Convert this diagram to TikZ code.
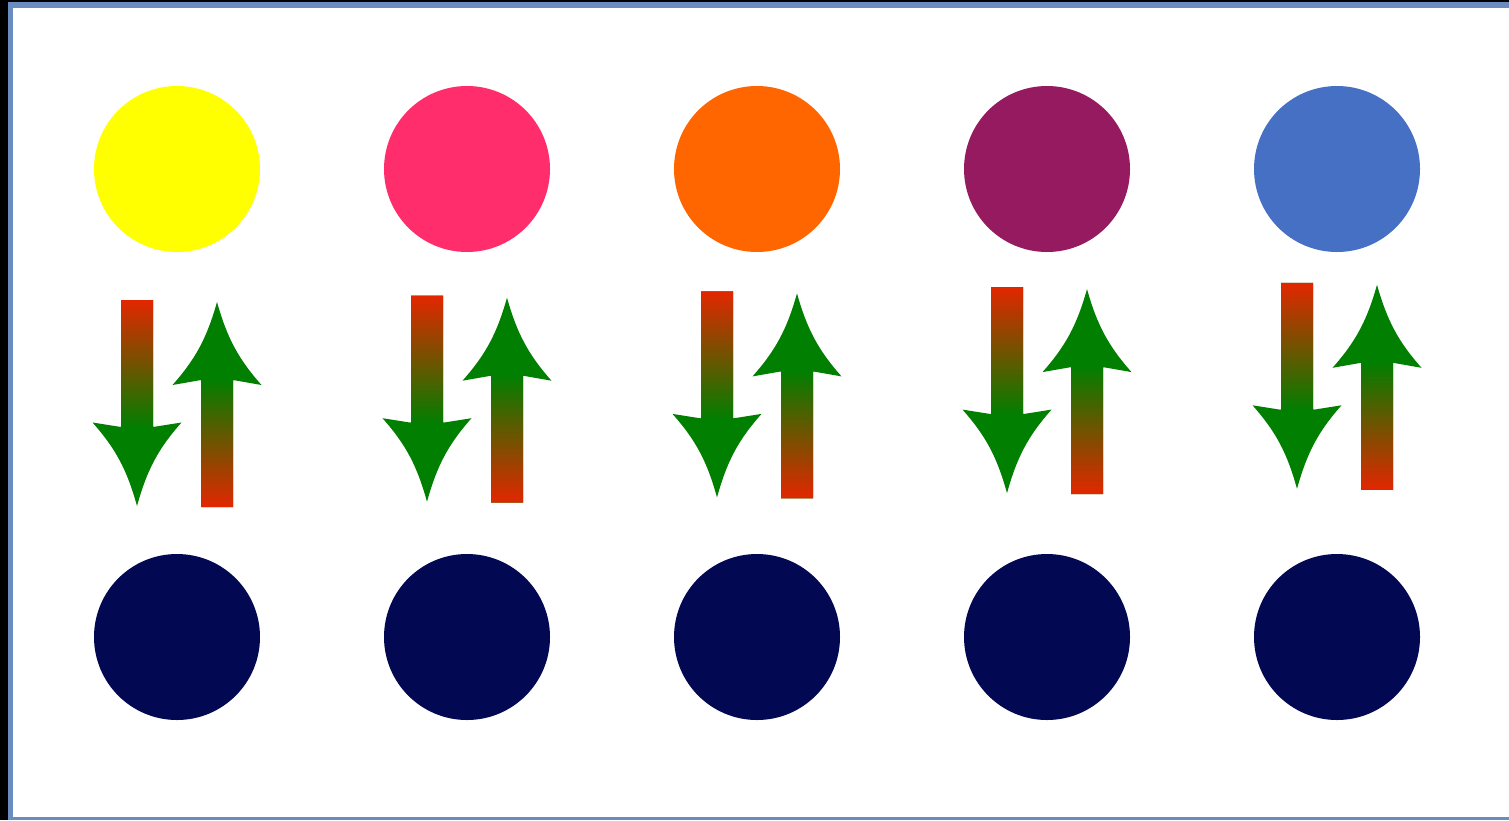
\documentclass[tikz,border=0pt]{standalone}
\definecolor{frameblue}{HTML}{6A8CC1}
\definecolor{cyellow}{HTML}{FFFF00}
\definecolor{cpink}{HTML}{FF2D6B}
\definecolor{corange}{HTML}{FF6600}
\definecolor{cpurple}{HTML}{951A5F}
\definecolor{cblue}{HTML}{4670C4}
\definecolor{cnavy}{HTML}{020852}
\definecolor{ared}{HTML}{E42600}
\definecolor{agreen}{HTML}{007F00}
\definecolor{amid}{HTML}{9A4000}
\tikzset{
  ball/.style={circle, minimum size=166pt, inner sep=0pt, draw=none},
}
\begin{document}
\begin{tikzpicture}[x=1pt,y=-1pt]
\useasboundingbox (0,0) rectangle (1509,820);
\fill[black] (0,0) rectangle (1509,820);
\fill[frameblue] (8,2) rectangle (1509,820);
\fill[white] (13,8) rectangle (1509,817);
% top row
\node[ball, fill=cyellow] (t1) at (177,169) {};
\node[ball, fill=cpink]   (t2) at (467,169) {};
\node[ball, fill=corange] (t3) at (757,169) {};
\node[ball, fill=cpurple] (t4) at (1047,169) {};
\node[ball, fill=cblue]   (t5) at (1337,169) {};
% bottom row
\node[ball, fill=cnavy] (b1) at (177,637) {};
\node[ball, fill=cnavy] (b2) at (467,637) {};
\node[ball, fill=cnavy] (b3) at (757,637) {};
\node[ball, fill=cnavy] (b4) at (1047,637) {};
\node[ball, fill=cnavy] (b5) at (1337,637) {};
% arrows
\foreach \k in {0,...,4}{
  \pgfmathsetmacro{\cx}{177+290*\k}
  \pgfmathsetmacro{\dy}{-4.3*\k}
  % down arrow
  \begin{scope}[shift={(\cx-40,300+\dy)}]
    \clip (-16,0) -- (16,0) -- (16,127) -- (44.5,122.5)
      .. controls (21,149) and (10,170) .. (0,206)
      .. controls (-10,170) and (-21,149) .. (-44.5,122.5)
      -- (-16,127) -- cycle;
    \fill[agreen] (-46,-1) rectangle (46,208);
    \shade[top color=ared, middle color=amid, bottom color=agreen] (-17,-1) rectangle (17,128);
  \end{scope}
  % up arrow
  \begin{scope}[shift={(\cx+40,507+\dy)}]
    \clip (-16,0) -- (16,0) -- (16,-127) -- (44.5,-122)
      .. controls (21,-148.5) and (10,-169.5) .. (0,-205)
      .. controls (-10,-169.5) and (-21,-148.5) .. (-44.5,-122)
      -- (-16,-127) -- cycle;
    \fill[agreen] (-46,1) rectangle (46,-207);
    \shade[top color=agreen, middle color=amid, bottom color=ared] (-17,-128) rectangle (17,1);
  \end{scope}
}
\end{tikzpicture}
\end{document}
